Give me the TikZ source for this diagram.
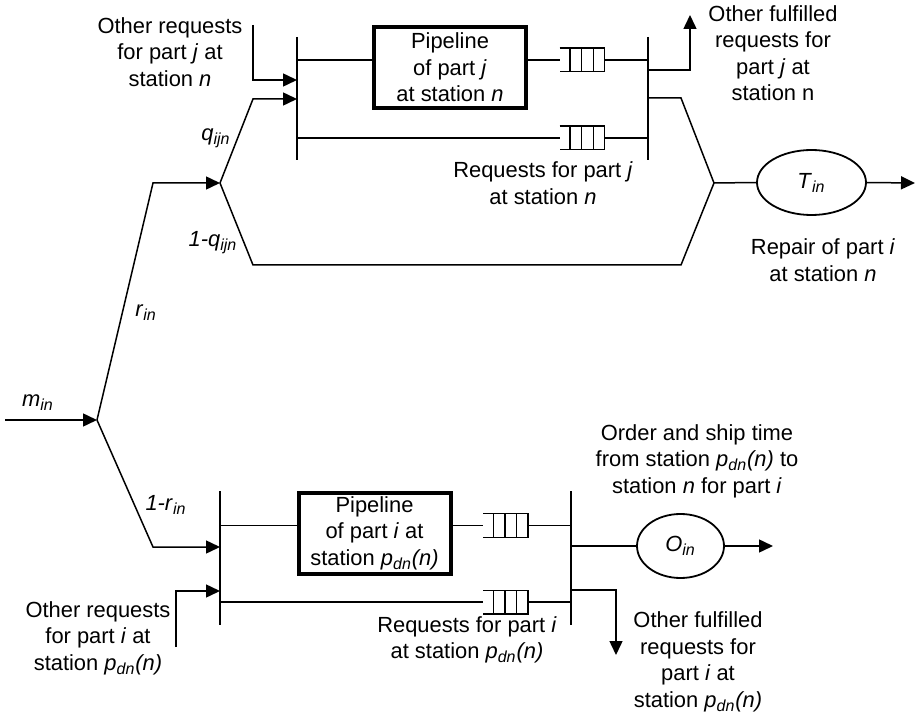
\documentclass[tikz,border=0pt]{standalone}
\usepackage{fontspec}
\setmainfont{Liberation Sans}
\usetikzlibrary{arrows.meta, calc, shapes.geometric}
\newcommand{\sub}[2]{\textit{#1}\textsubscript{\textit{#2}}}
\newcommand{\pdn}{\sub{p}{dn}\textit{(n)}}
\tikzset{
  wire/.style     = {line width=0.75pt},
  flow/.style     = {wire, -{Triangle[length=7pt, width=6.5pt]}},
  bar/.style      = {line width=0.8pt},
  pipe box/.style = {draw, line width=2pt, minimum width=76pt, minimum height=40.5pt,
                     inner sep=0pt, align=center},
  queue/.style    = {minimum width=22pt, minimum height=11.5pt, inner sep=0pt},
  queue line/.style = {line width=0.6pt},
  delay/.style    = {draw, ellipse, line width=0.9pt, inner sep=0pt},
  lbl/.style      = {align=center, inner sep=0pt},
}

\begin{document}
\begin{tikzpicture}[x=0.5pt, y=-0.5pt, font=\fontsize{10.95}{13.25}\selectfont]
  \useasboundingbox (0,0) rectangle (917,717);

  % ── junction bars ─────────────────────────────────────────────────────────
  \coordinate (A-top) at (297,37);  \coordinate (A-bot) at (297,160);
  \coordinate (B-top) at (648,37);  \coordinate (B-bot) at (648,160);
  \coordinate (C-top) at (220,491); \coordinate (C-bot) at (220,625);
  \coordinate (D-top) at (571,491); \coordinate (D-bot) at (571,625);
  \foreach \s in {A,B,C,D}
    \draw[bar] (\s-top) -- (\s-bot);

  % ── split points and bends ────────────────────────────────────────────────
  \coordinate (m start) at (5,420);
  \coordinate (m)       at (97,420);
  \coordinate (r bend)  at (153,183);
  \coordinate (nr bend) at (153,547);
  \coordinate (q)       at (220,183);
  \coordinate (q bend)  at (253,99);
  \coordinate (nq bend) at (253,265);
  \coordinate (nq join) at (681,265);
  \coordinate (rj bend) at (681,98);
  \coordinate (tj)      at (714,183);
  \coordinate (oj in)   at (253,25);
  \coordinate (oj bend) at (253,80);
  \coordinate (fj bend) at (690,70);
  \coordinate (fj out)  at (690,15);
  \coordinate (repair out) at (915,183);
  \coordinate (oi in)   at (176,647);
  \coordinate (oi bend) at (176,591);
  \coordinate (fi bend) at (616,590);
  \coordinate (fi out)  at (616,655);
  \coordinate (order out) at (773,546);

  % ── pipelines, queues, delays ─────────────────────────────────────────────
  \node[pipe box] (pipe j) at (450,67.5) {Pipeline\\of part \textit{j}\\at station \textit{n}};
  \node[pipe box] (pipe i) at (374.5,533) {Pipeline\\of part \textit{i} at\\station \pdn};

  \node[queue] (qa) at (582,60) {};
  \node[queue] (qb) at (582,138) {};
  \node[queue] (qc) at (505.5,525.5) {};
  \node[queue] (qd) at (505.5,602) {};
  \foreach \q in {qa,qb,qc,qd}{
    \draw[queue line] (\q.north west) -- (\q.north east) -- (\q.south east) -- (\q.south west);
    \foreach \f in {0.23,0.49,0.75}
      \draw[queue line] ($(\q.north west)!\f!(\q.north east)$) -- ($(\q.south west)!\f!(\q.south east)$);
  }

  \node[delay, minimum width=54.5pt, minimum height=32.5pt] (repair) at (811.5,182.5) {\sub{T}{in}};
  \node[delay, minimum width=43.5pt, minimum height=32pt] (order) at (680.5,546) {\sub{O}{in}};

  % ── routing of demand ─────────────────────────────────────────────────────
  \draw[flow] (m start) -- (m);
  \draw[flow] (m) -- (r bend) -- (q);
  \draw[flow] (m) -- (nr bend) -- (nr bend -| C-top);
  \draw[flow] (q) -- (q bend) -- (q bend -| A-top);
  \draw[wire] (q) -- (nq bend) -- (nq join) -- (tj);
  \draw[flow] (oj in) -- (oj bend) -- (oj bend -| A-top);
  \draw[flow] (oi in) -- (oi bend) -- (oi bend -| C-top);

  % upper station n
  \draw[wire] (A-top |- qa) -- (pipe j.west |- qa);
  \draw[wire] (pipe j.east |- qa) -- (qa.west);
  \draw[wire] (qa.east) -- (B-top |- qa);
  \draw[wire] (A-top |- qb) -- (qb.west);
  \draw[wire] (qb.east) -- (B-top |- qb);
  \draw[flow] (B-top |- fj bend) -- (fj bend) -- (fj out);
  \draw[wire] (B-top |- rj bend) -- (rj bend) -- (tj);
  \draw[wire] (tj) -- (repair.west);
  \draw[flow] (repair.east) -- (repair out);

  % lower station p_dn(n)
  \draw[wire] (C-top |- qc) -- (pipe i.west |- qc);
  \draw[wire] (pipe i.east |- qc) -- (qc.west);
  \draw[wire] (qc.east) -- (D-top |- qc);
  \draw[wire] (C-top |- qd) -- (qd.west);
  \draw[wire] (qd.east) -- (D-top |- qd);
  \draw[wire] (D-top |- order) -- (order.west);
  \draw[flow] (order.east) -- (order out);
  \draw[flow] (D-top |- fi bend) -- (fi bend) -- (fi out);

  % ── labels ────────────────────────────────────────────────────────────────
  \node[lbl] (oj lbl)  at (170,52)  {Other requests\\for part \textit{j} at\\station \textit{n}};
  \node[lbl] (q lbl)   at (216,138) {\sub{q}{ijn}};
  \node[lbl] (nq lbl)  at (213,243) {\textit{1-}\sub{q}{ijn}};
  \node[lbl] (r lbl)   at (146,313) {\sub{r}{in}};
  \node[lbl] (m lbl)   at (38,403)  {\sub{m}{in}};
  \node[lbl] (nr lbl)  at (166,505) {\textit{1-}\sub{r}{in}};
  \node[lbl] (fj lbl)  at (773,53)  {Other fulfilled\\requests for\\part \textit{j} at\\station n};
  \node[lbl] (rj lbl)  at (543,183) {Requests for part \textit{j}\\at station \textit{n}};
  \node[lbl] (rep lbl) at (823,260) {Repair of part \textit{i}\\at station \textit{n}};
  \node[lbl] (ord lbl) at (697,461) {Order and ship time\\from station \pdn{} to\\station \textit{n} for part \textit{i}};
  \node[lbl] (oi lbl)  at (98,638)  {Other requests\\for part \textit{i} at\\station \pdn};
  \node[lbl] (ri lbl)  at (467,640) {Requests for part \textit{i}\\at station \pdn};
  \node[lbl] (fi lbl)  at (698,662) {Other fulfilled\\requests for\\part \textit{i} at\\station \pdn};

\end{tikzpicture}
\end{document}
